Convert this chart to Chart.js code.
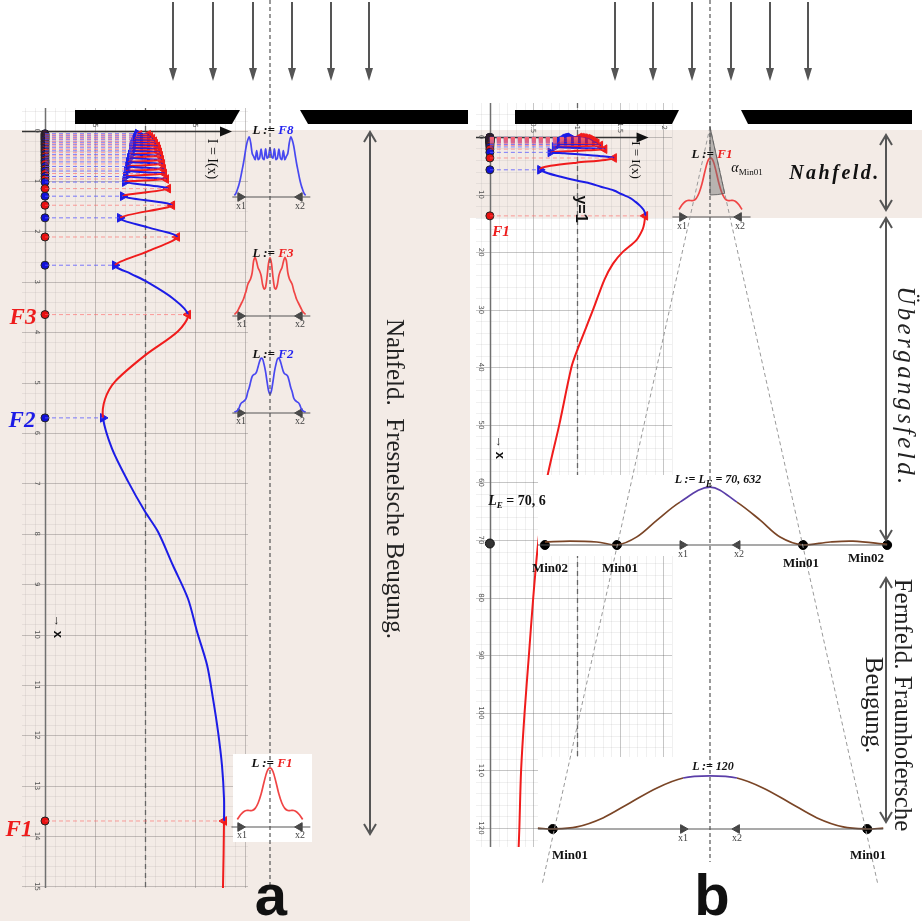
<!DOCTYPE html>
<html><head><meta charset="utf-8">
<script src="https://cdn.jsdelivr.net/npm/chart.js@4/dist/chart.umd.min.js"></script>
<style>
html,body{margin:0;padding:0}
body{width:922px;height:921px;overflow:hidden;background:#fff;position:relative;font-family:"Liberation Serif","DejaVu Serif",serif;color:#111}
.box{position:absolute}
canvas{position:absolute;display:block}
.txt{position:absolute;white-space:nowrap;transform:translate(-50%,-50%);line-height:1}
.rot{position:absolute;white-space:nowrap;transform:translate(-50%,-50%) rotate(90deg);line-height:1}
.ttl{font-weight:bold;font-style:italic;font-size:13px}
.xl{font-size:10px;color:#444}
.mn{font-weight:bold;font-size:13px}
#deco{position:absolute;left:0;top:0}
</style></head>
<body>
<div class="box" style="left:0;top:130px;width:470px;height:791px;background:#f3ebe6"></div>
<div class="box" style="left:470px;top:130px;width:452px;height:88px;background:#f3ebe6"></div>
<canvas id="cA" width="470" height="821" style="left:0;top:100px"></canvas>
<canvas id="cB" width="452" height="826" style="left:470px;top:95px"></canvas>
<div class="box" style="left:233px;top:754px;width:79px;height:88px;background:#fff"></div>
<div class="box" style="left:538px;top:475px;width:354px;height:81px;background:#fff"></div>
<div class="box" style="left:538px;top:757px;width:354px;height:91px;background:#fff"></div>
<div id="insets"></div>
<svg id="deco" width="922" height="921"></svg>

<!-- panel a texts -->
<div class="txt" style="left:23px;top:316px;color:#ee1c1c;font-weight:bold;font-style:italic;font-size:23px">F3</div>
<div class="txt" style="left:22px;top:419px;color:#1c1ce6;font-weight:bold;font-style:italic;font-size:23px">F2</div>
<div class="txt" style="left:19px;top:828px;color:#ee1c1c;font-weight:bold;font-style:italic;font-size:23px">F1</div>
<div class="rot" style="left:212px;top:159px;font-size:14px">I = I(x)</div>
<div class="rot" style="left:58px;top:626px;font-size:13px;font-weight:bold;font-family:'Liberation Sans',sans-serif">→ x</div>
<div class="rot" style="left:395px;top:479px;font-size:25px;color:#222">Nahfeld.&nbsp; Fresnelsche Beugung.</div>
<div class="txt ttl" style="left:273px;top:129px">L := <span style="color:#2323f0">F8</span></div>
<div class="txt ttl" style="left:273px;top:252px">L := <span style="color:#ee2020">F3</span></div>
<div class="txt ttl" style="left:273px;top:353px">L := <span style="color:#2323f0">F2</span></div>
<div class="txt ttl" style="left:272px;top:762px">L := <span style="color:#ee2020">F1</span></div>
<div class="txt xl" style="left:241px;top:206px">x1</div><div class="txt xl" style="left:300px;top:206px">x2</div>
<div class="txt xl" style="left:242px;top:324px">x1</div><div class="txt xl" style="left:300px;top:324px">x2</div>
<div class="txt xl" style="left:241px;top:421px">x1</div><div class="txt xl" style="left:300px;top:421px">x2</div>
<div class="txt xl" style="left:242px;top:835px">x1</div><div class="txt xl" style="left:300px;top:835px">x2</div>
<div class="txt" style="left:271px;top:895px;font-family:'Liberation Sans',sans-serif;font-weight:bold;font-size:58px">a</div>

<!-- panel b texts -->
<div class="txt" style="left:501px;top:231px;color:#ee1c1c;font-weight:bold;font-style:italic;font-size:15px">F1</div>
<div class="rot" style="left:636px;top:160px;font-size:13px">I = I(x)</div>
<div class="rot" style="left:581px;top:209px;font-size:16px;font-weight:bold;font-family:'Liberation Sans',sans-serif">y=1</div>
<div class="rot" style="left:500px;top:447px;font-size:13px;font-weight:bold;font-family:'Liberation Sans',sans-serif">→ x</div>
<div class="txt" style="left:835px;top:172px;font-size:20px;font-weight:bold;font-style:italic;letter-spacing:2.5px">Nahfeld.</div>
<div class="rot" style="left:906px;top:387px;font-size:25px;font-style:italic;letter-spacing:3.4px;color:#222">Übergangsfeld.</div>
<div class="rot" style="left:889px;top:705px;font-size:25px;line-height:29px;text-align:center;color:#222">Fernfeld. Fraunhofersche<br>Beugung.</div>
<div class="txt ttl" style="left:712px;top:153px">L := <span style="color:#ee2020">F1</span></div>
<div class="txt" style="left:747px;top:169px;font-style:italic;font-size:14px">α<sub style="font-style:normal;font-size:9px">Min01</sub></div>
<div class="txt xl" style="left:682px;top:226px">x1</div><div class="txt xl" style="left:740px;top:226px">x2</div>
<div class="txt ttl" style="left:718px;top:481px;font-size:12px">L := L<sub>E</sub> = 70, 632</div>
<div class="txt" style="left:517px;top:502px;font-weight:bold;font-size:14px"><i>L<sub style="font-size:9px">E</sub></i> = 70, 6</div>
<div class="txt xl" style="left:683px;top:554px">x1</div><div class="txt xl" style="left:739px;top:554px">x2</div>
<div class="txt mn" style="left:550px;top:567px">Min02</div>
<div class="txt mn" style="left:620px;top:567px">Min01</div>
<div class="txt mn" style="left:801px;top:562px">Min01</div>
<div class="txt mn" style="left:866px;top:557px">Min02</div>
<div class="txt ttl" style="left:713px;top:766px;font-size:12px">L := 120</div>
<div class="txt xl" style="left:683px;top:838px">x1</div><div class="txt xl" style="left:737px;top:838px">x2</div>
<div class="txt mn" style="left:570px;top:854px">Min01</div>
<div class="txt mn" style="left:868px;top:854px">Min01</div>
<div class="txt" style="left:712px;top:895px;font-family:'Liberation Sans',sans-serif;font-weight:bold;font-size:58px">b</div>

<script>
// ================= DATA =================
// Extrema of the on-axis intensity I(x): position x, intensity I, kind
const extremaX = [0.06,0.08,0.10,0.12,0.14,0.16,0.18,0.21,0.23,0.26,0.28,0.31,0.34,0.37,0.40,0.43,0.47,0.50,0.54,0.58,0.62,0.66,0.71,0.76,0.80,0.85,0.91,0.96,1.02,1.15,1.30,1.48,1.73,2.11,2.67,3.65,5.70,13.70];
const extremaI = [0.93,1.03,0.92,1.05,0.91,1.07,0.90,1.09,0.89,1.10,0.88,1.12,0.87,1.13,0.87,1.14,0.86,1.15,0.85,1.16,0.84,1.17,0.83,1.18,0.82,1.19,0.81,1.21,0.80,1.23,0.78,1.27,0.75,1.32,0.70,1.43,0.58,1.79];
const extremaKind = ['min','max','min','max','min','max','min','max','min','max','min','max','min','max','min','max','min','max','min','max','min','max','min','max','min','max','min','max','min','max','min','max','min','max','min','max','min','max'];
// Samples of the curve I(x)
const curveX = [0.00,0.06,0.08,0.10,0.12,0.14,0.16,0.18,0.21,0.23,0.26,0.28,0.31,0.34,0.37,0.40,0.43,0.47,0.50,0.54,0.58,0.62,0.66,0.71,0.76,0.80,0.85,0.91,0.96,1.02,1.15,1.30,1.48,1.73,1.92,2.11,2.40,2.67,2.84,3.00,3.33,3.65,3.98,4.46,4.98,5.33,5.70,6.31,6.96,7.56,7.96,8.63,9.29,9.94,10.60,11.27,11.92,12.60,13.25,13.70,15.0,16.1,17.9,20,22,24.8,30,37.3,40,50,60,70,80,90,100,110,120,124];
const curveI = [0.97,0.93,1.03,0.92,1.05,0.91,1.07,0.90,1.09,0.89,1.10,0.88,1.12,0.87,1.13,0.87,1.14,0.86,1.15,0.85,1.16,0.84,1.17,0.83,1.18,0.82,1.19,0.81,1.21,0.80,1.23,0.78,1.27,0.75,1.03,1.32,1.02,0.70,0.86,1.02,1.28,1.43,1.33,1.00,0.70,0.60,0.58,0.67,0.83,1.00,1.13,1.28,1.43,1.52,1.62,1.68,1.73,1.77,1.79,1.79,1.78,1.76,1.69,1.53,1.42,1.32,1.19,1.00,0.94,0.80,0.65,0.56,0.50,0.45,0.40,0.36,0.34,0.33];
const ticksA_x = [0,1,2,3,4,5,6,7,8,9,10,11,12,13,14,15];
const ticksA_I = [0.5,1,1.5];
const ticksB_x = [0,10,20,30,40,50,60,70,80,90,100,110,120];
const ticksB_I = [0.5,1,1.5,2];
const distanceLE = 70.6;

// Cross-section profiles (u: position across the screen, x1=-1, x2=+1)
const u05 = [-1.2,-1.15,-1.1,-1.05,-1,-0.95,-0.9,-0.85,-0.8,-0.75,-0.7,-0.65,-0.6,-0.55,-0.5,-0.45,-0.4,-0.35,-0.3,-0.25,-0.2,-0.15,-0.1,-0.05,0,0.05,0.1,0.15,0.2,0.25,0.3,0.35,0.4,0.45,0.5,0.55,0.6,0.65,0.7,0.75,0.8,0.85,0.9,0.95,1,1.05,1.1,1.15,1.2];
const profF8 = [0.05,0.12,0.25,0.4,0.6,0.85,1.1,1.4,1.7,1.9,2.0,1.8,1.45,1.35,1.25,1.55,1.25,1.3,1.6,1.3,1.25,1.6,1.3,1.35,1.65,1.35,1.3,1.6,1.25,1.3,1.6,1.3,1.25,1.55,1.25,1.35,1.45,1.8,2.0,1.9,1.7,1.4,1.1,0.85,0.6,0.4,0.25,0.12,0.05];
const profF3 = [0.05,0.1,0.15,0.25,0.35,0.45,0.55,0.7,0.85,1.05,1.15,1.25,1.45,1.85,1.95,1.8,1.6,1.5,1.35,1.05,0.9,0.95,1.3,1.75,1.95,1.75,1.3,0.95,0.9,1.05,1.35,1.5,1.6,1.8,1.95,1.85,1.45,1.25,1.15,1.05,0.85,0.7,0.55,0.45,0.35,0.25,0.15,0.1,0.05];
const profF2 = [0.03,0.05,0.08,0.15,0.28,0.35,0.38,0.42,0.5,0.7,0.85,1.05,1.22,1.28,1.3,1.38,1.55,1.72,1.83,1.8,1.62,1.38,1.05,0.75,0.63,0.75,1.05,1.38,1.62,1.8,1.83,1.72,1.55,1.38,1.3,1.28,1.22,1.05,0.85,0.7,0.5,0.42,0.38,0.35,0.28,0.15,0.08,0.05,0.03];
const u1 = [-1.1,-1.0,-0.9,-0.8,-0.7,-0.6,-0.5,-0.4,-0.3,-0.2,-0.1,0,0.1,0.2,0.3,0.4,0.5,0.6,0.7,0.8,0.9,1.0,1.1];
const profF1 = [0.25,0.4,0.5,0.55,0.55,0.55,0.62,0.8,1.1,1.5,1.85,1.97,1.85,1.5,1.1,0.8,0.62,0.55,0.55,0.55,0.5,0.4,0.25];
const u70 = [-5.89,-5.0,-4.04,-3.32,-2.61,-1.89,-1.07,0,0.96,1.79,2.5,3.32,4.29,5.1,6.32];
const prof70 = [0.1,0.13,0.1,0.0,0.27,0.83,1.43,1.93,1.43,0.83,0.27,0.0,0.1,0.13,0.02];
const min70 = [-5.89,-3.32,3.32,6.32];
const u120 = [-6.14,-5.61,-4.75,-3.82,-2.86,-1.89,-0.96,0,0.96,1.89,2.86,3.82,4.75,5.61,6.18];
const prof120 = [0.03,0.0,0.07,0.37,0.87,1.37,1.7,1.77,1.7,1.37,0.87,0.37,0.07,0.0,0.03];
const min120 = [-5.61,5.61];

// ================= STYLE =================
const RED = '#f01c1c', BLUE = '#1c1ce6';
Chart.defaults.font.family = '"Liberation Serif", serif';
const base = {responsive:false, animation:false, devicePixelRatio:1, events:[],
  plugins:{legend:{display:false}, tooltip:{enabled:false}, title:{display:false}}};

function segColor(ctx){
  const y = ctx.p1.parsed.y;
  for (let k = 0; k < extremaX.length; k++) {
    if (extremaX[k] >= y - 1e-9) return extremaKind[k] === 'min' ? RED : BLUE;
  }
  return RED;
}

function mainDatasets(extra){
  const maxDash = [], minDash = [];
  extremaX.forEach((xv,k) => {
    const t = extremaKind[k] === 'max' ? maxDash : minDash;
    t.push({x:0,y:xv},{x:extremaI[k],y:xv},{x:null,y:null});
  });
  const isMax = k => extremaKind[k] === 'max';
  const curve = curveX.map((xv,k) => ({x:curveI[k], y:xv}));
  const ext = extremaX.map((xv,k) => ({x:extremaI[k], y:xv}));
  const dots = extremaX.map(xv => ({x:0, y:xv}));
  return [
    {data:maxDash, showLine:true, borderColor:'rgba(255,100,100,0.6)', borderWidth:1, borderDash:[4,3], pointRadius:0},
    {data:minDash, showLine:true, borderColor:'rgba(90,90,255,0.8)', borderWidth:1, borderDash:[4,3], pointRadius:0},
    {data:curve, showLine:true, borderWidth:2, pointRadius:0, tension:0.3, borderColor:RED, segment:{borderColor:segColor}},
    {data:ext, showLine:false, pointStyle:'triangle', pointRadius:5,
      pointRotation: ext.map((p,k) => isMax(k) ? -90 : 90),
      pointBackgroundColor: ext.map((p,k) => isMax(k) ? RED : BLUE),
      pointBorderColor: ext.map((p,k) => isMax(k) ? RED : BLUE), pointBorderWidth:1},
    {data:dots, showLine:false, pointRadius:4,
      pointBackgroundColor: dots.map((p,k) => isMax(k) ? '#e81010' : '#1010d8'),
      pointBorderColor:'#222', pointBorderWidth:1}
  ].concat(extra || []);
}

function gridDecor(o){
  return {id:'gridDecor', beforeDatasetsDraw(chart){
    const {ctx, chartArea:a, scales:{x:sx, y:sy}} = chart;
    ctx.save();
    const seg = (x1,y1,x2,y2,col,w,dash) => {ctx.beginPath(); ctx.setLineDash(dash||[]); ctx.strokeStyle=col; ctx.lineWidth=w; ctx.moveTo(x1,y1); ctx.lineTo(x2,y2); ctx.stroke();};
    const k0 = Math.ceil(sx.min/o.iStep - 1e-9), k1 = Math.floor(sx.max/o.iStep + 1e-9);
    for (let k = k0; k <= k1; k++) {
      const p = Math.round(sx.getPixelForValue(k*o.iStep)) + 0.5;
      seg(p,a.top,p,a.bottom, (k % o.iMajor === 0) ? o.majorCol : o.minorCol, 1);
    }
    const j0 = Math.ceil(sy.min/o.xStep - 1e-9), j1 = Math.floor(sy.max/o.xStep + 1e-9);
    for (let j = j0; j <= j1; j++) {
      const p = Math.round(sy.getPixelForValue(j*o.xStep)) + 0.5;
      seg(a.left,p,a.right,p, (j % o.xMajor === 0) ? o.majorCol : o.minorCol, 1);
    }
    const p1 = Math.round(sx.getPixelForValue(1)) + 0.5;
    seg(p1,a.top,p1,a.bottom,'#666',1.3,[5,4]);
    const p0 = Math.round(sx.getPixelForValue(0)) + 0.5;
    seg(p0,a.top,p0,a.bottom,'#707070',1.5);
    const q0 = Math.round(sy.getPixelForValue(0)) + 0.5, pe = sx.getPixelForValue(o.axisEnd);
    seg(a.left,q0,pe-4,q0,'#333',1.5);
    ctx.setLineDash([]); ctx.fillStyle='#111'; ctx.beginPath();
    ctx.moveTo(pe,q0); ctx.lineTo(pe-12,q0-5); ctx.lineTo(pe-12,q0+5); ctx.closePath(); ctx.fill();
    ctx.font = '7px "DejaVu Sans"'; ctx.fillStyle = '#555'; ctx.textAlign = 'center'; ctx.textBaseline = 'middle';
    const lx = sx.getPixelForValue(o.xLabelAtI);
    for (const v of o.ticksX) { const py = sy.getPixelForValue(v); ctx.save(); ctx.translate(lx,py); ctx.rotate(Math.PI/2); ctx.fillText(String(v),0,0); ctx.restore(); }
    const ly = sy.getPixelForValue(o.iLabelAtX);
    for (const v of o.ticksI) { const px = sx.getPixelForValue(v); ctx.save(); ctx.translate(px,ly); ctx.rotate(Math.PI/2); ctx.fillText(String(v),0,0); ctx.restore(); }
    ctx.restore();
  }};
}

// ---------- Chart a ----------
new Chart(document.getElementById('cA'), {
  type:'scatter',
  data:{datasets: mainDatasets()},
  options:Object.assign({}, base, {
    layout:{padding:{left:22,right:222,top:8,bottom:33}},
    scales:{x:{type:'linear',min:-0.23,max:2.03,display:false},
            y:{type:'linear',min:-0.45,max:15.03,reverse:true,display:false}}
  }),
  plugins:[gridDecor({iStep:0.1,iMajor:5,xStep:0.2,xMajor:5,majorCol:'rgba(105,100,100,0.36)',minorCol:'rgba(140,130,130,0.13)',
    axisEnd:1.87, xLabelAtI:-0.08, iLabelAtX:-0.17, ticksX:ticksA_x, ticksI:ticksA_I})]
});

// ---------- Chart b ----------
new Chart(document.getElementById('cB'), {
  type:'scatter',
  data:{datasets: mainDatasets([{data:[{x:0,y:distanceLE}], showLine:false, pointRadius:4.5, pointBackgroundColor:'#333', pointBorderColor:'#111'}])},
  options:Object.assign({}, base, {
    layout:{padding:{left:3,right:250,top:8,bottom:74}},
    scales:{x:{type:'linear',min:-0.16,max:2.1,display:false},
            y:{type:'linear',min:-5.9,max:123.3,reverse:true,display:false}}
  }),
  plugins:[gridDecor({iStep:0.1,iMajor:5,xStep:2,xMajor:5,majorCol:'rgba(105,105,105,0.38)',minorCol:'rgba(140,140,140,0.13)',
    axisEnd:1.83, xLabelAtI:-0.1, iLabelAtX:-1.6, ticksX:ticksB_x, ticksI:ticksB_I})]
});

// ---------- Insets ----------
const insetGeo = {
  aF8:{cx:270, ay:197, su:29.5, u0:-1.45, u1:1.45, axL:-1.27, axR:1.36, ar:1.0},
  aF3:{cx:270, ay:316, su:29.5, u0:-1.45, u1:1.45, axL:-1.27, axR:1.36, ar:1.0},
  aF2:{cx:270, ay:413, su:29.5, u0:-1.45, u1:1.45, axL:-1.27, axR:1.36, ar:1.0},
  aF1:{cx:270, ay:827, su:29.5, u0:-1.45, u1:1.45, axL:-1.3, axR:1.36, ar:1.0},
  bF1:{cx:710, ay:217, su:28.5, u0:-1.45, u1:1.45, axL:-1.33, axR:1.4, ar:0.99},
  b70:{cx:710, ay:545, su:28, u0:-6.6, u1:6.6, axL:-6.14, axR:6.32, ar:0.98},
  b120:{cx:710, ay:829, su:28, u0:-6.6, u1:6.6, axL:-6.14, axR:6.18, ar:0.96}
};
function makeInset(g, u, prof, lineOpts, extra){
  const si = 30, iMax = 2.2, pad = 8;
  const c = document.createElement('canvas');
  const left = Math.round(g.cx + g.u0*g.su - pad), top = Math.round(g.ay - iMax*si - pad);
  const w = Math.round((g.u1-g.u0)*g.su + 2*pad), h = Math.round(iMax*si + 2*pad);
  c.width = w; c.height = h; c.style.left = left+'px'; c.style.top = top+'px';
  document.getElementById('insets').appendChild(c);
  new Chart(c, {type:'scatter', data:{datasets:[
    {data:[{x:g.axL,y:0},{x:g.axR,y:0}], showLine:true, borderColor:'#555', borderWidth:1.2, pointRadius:0, clip:false},
    Object.assign({data:u.map((v,k)=>({x:v,y:prof[k]})), showLine:true, borderWidth:1.7, pointRadius:0, tension:0.3, clip:false}, lineOpts),
    {data:[{x:-g.ar,y:0},{x:g.ar,y:0}], showLine:false, pointStyle:'triangle', pointRadius:5, pointRotation:[90,-90],
      pointBackgroundColor:'#444', pointBorderColor:'#444', clip:false}
  ].concat(extra||[])},
  options:Object.assign({}, base, {layout:{padding:pad},
    scales:{x:{type:'linear',min:g.u0,max:g.u1,display:false}, y:{type:'linear',min:0,max:iMax,display:false}}})});
}
const brown = ctx => (Math.abs(ctx.p0.parsed.x) < 1.2 && Math.abs(ctx.p1.parsed.x) < 1.2) ? '#5a3ea8' : '#7a4526';
makeInset(insetGeo.aF8, u05, profF8, {borderColor:'#4848f0'});
makeInset(insetGeo.aF3, u05, profF3, {borderColor:'#f04545'});
makeInset(insetGeo.aF2, u05, profF2, {borderColor:'#4848f0'});
makeInset(insetGeo.aF1, u1, profF1, {borderColor:'#f04545'});
makeInset(insetGeo.bF1, u1, profF1, {borderColor:'#f04545'});
makeInset(insetGeo.b70, u70, prof70, {borderColor:'#7a4526', tension:0.35, segment:{borderColor:brown}},
  [{data:min70.map(v=>({x:v,y:0})), showLine:false, pointRadius:4.5, pointBackgroundColor:'#000', pointBorderColor:'#000', clip:false}]);
makeInset(insetGeo.b120, u120, prof120, {borderColor:'#7a4526', tension:0.35, segment:{borderColor:brown}},
  [{data:min120.map(v=>({x:v,y:0})), showLine:false, pointRadius:4.5, pointBackgroundColor:'#000', pointBorderColor:'#000', clip:false}]);

// ---------- Decorations (incident light, slits, axes of symmetry) ----------
const lightArrowsX = [173,213,253,292,331,369,615,653,692,731,770,808];
let s = '';
for (const x of lightArrowsX) {
  s += `<line x1="${x}" y1="2" x2="${x}" y2="70" stroke="#555" stroke-width="2"/><polygon points="${x-4},68 ${x+4},68 ${x},81" fill="#555"/>`;
}
s += '<polygon points="75,110 240,110 232,124 75,124" fill="#000"/>';
s += '<polygon points="300,110 468,110 468,124 308,124" fill="#000"/>';
s += '<polygon points="515,110 679,110 672,124 515,124" fill="#000"/>';
s += '<polygon points="741,110 912,110 912,124 748,124" fill="#000"/>';
s += '<line x1="270" y1="0" x2="270" y2="888" stroke="#555" stroke-width="1.2" stroke-dasharray="4,3"/>';
s += '<line x1="710" y1="0" x2="710" y2="862" stroke="#555" stroke-width="1.2" stroke-dasharray="4,3"/>';
s += '<line x1="710" y1="127" x2="542" y2="885" stroke="#999" stroke-width="1" stroke-dasharray="4,3"/>';
s += '<line x1="710" y1="127" x2="878" y2="885" stroke="#999" stroke-width="1" stroke-dasharray="4,3"/>';
s += '<path d="M710,127 L710,195 A68,68 0 0,0 724.7,193.4 Z" fill="rgba(110,110,110,0.45)" stroke="#555" stroke-width="0.8"/>';
function darrow(x,y1,y2){
  return `<line x1="${x}" y1="${y1}" x2="${x}" y2="${y2}" stroke="#555" stroke-width="2"/>`+
    `<polyline points="${x-6},${y1+10} ${x},${y1} ${x+6},${y1+10}" fill="none" stroke="#555" stroke-width="2"/>`+
    `<polyline points="${x-6},${y2-10} ${x},${y2} ${x+6},${y2-10}" fill="none" stroke="#555" stroke-width="2"/>`;
}
s += darrow(370,132,834) + darrow(886,135,210) + darrow(886,218,540) + darrow(886,578,822);
document.getElementById('deco').innerHTML = s;
</script>
</body></html>
